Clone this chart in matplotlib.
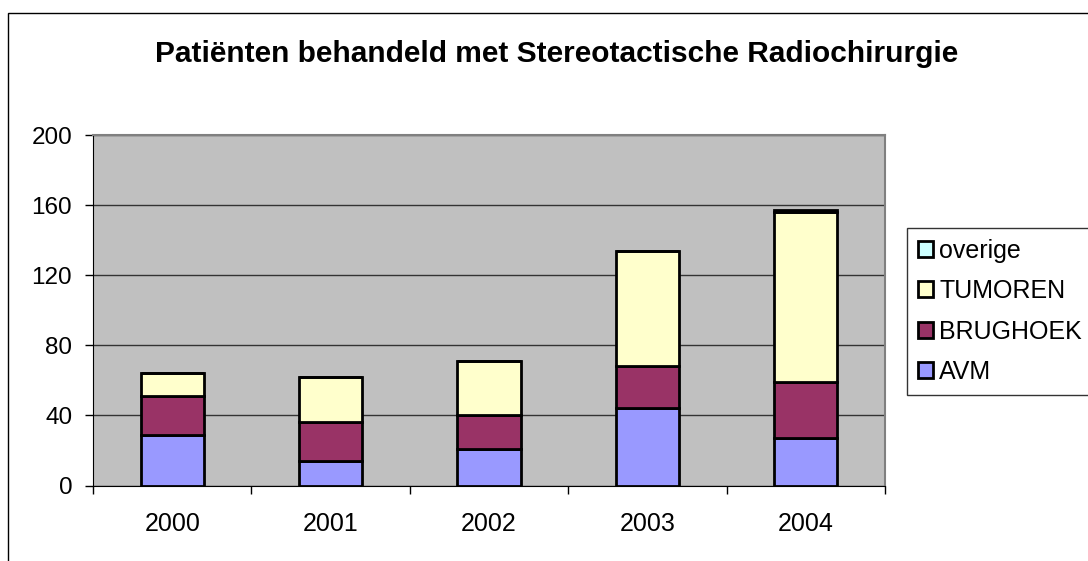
import numpy as np
import matplotlib.pyplot as plt
from matplotlib.patches import Rectangle

plt.rcParams['font.family'] = ['Liberation Sans', 'DejaVu Sans']

# data
jaren = ['2000', '2001', '2002', '2003', '2004']
avm = [29, 14, 21, 44, 27]
brughoek = [22, 22, 19, 24, 32]
tumoren = [13, 26, 31, 66, 97]
overige = [0, 0, 0, 0, 1]

series = [('AVM', avm, '#9999FF'),
          ('BRUGHOEK', brughoek, '#993366'),
          ('TUMOREN', tumoren, '#FFFFCC'),
          ('overige', overige, '#CCFFFF')]

fig = plt.figure(figsize=(10.88, 5.61), dpi=100)
# buitenrand van de grafiek
fig.patches.append(Rectangle((8 / 1088, -0.01), 1.2, 1 - 13 / 561 + 0.01,
                             transform=fig.transFigure, fill=False,
                             edgecolor='black', linewidth=1))

ax = fig.add_axes([93 / 1088, 1 - 485.5 / 561, 792 / 1088, 350.5 / 561])
ax.set_facecolor('#C0C0C0')

x = np.arange(len(jaren))
bottom = np.zeros(len(jaren))
handles = []
for naam, vals, kleur in series:
    vals = np.array(vals, dtype=float)
    b = ax.bar(x, vals, bottom=bottom, width=0.4, color=kleur,
               edgecolor='black', linewidth=2, label=naam, zorder=3)
    handles.append(b)
    bottom += vals

ax.set_xlim(-0.5, len(jaren) - 0.5)
ax.set_ylim(0, 200)
ax.set_yticks(range(0, 201, 40))
ax.set_xticks(np.arange(-0.5, len(jaren), 1), minor=False)
ax.set_xticklabels([])
ax.set_xticks(x, minor=True)
ax.set_xticklabels(jaren, minor=True)
ax.tick_params(axis='x', which='minor', length=0, labelsize=18, pad=19)
ax.tick_params(axis='x', which='major', length=6, width=1, direction='out')
ax.tick_params(axis='y', length=6, width=1, direction='out', labelsize=17.5, pad=9)

ax.yaxis.grid(True, color='#333333', linewidth=1, zorder=1)
ax.set_axisbelow(True)
for kant in ['top', 'right']:
    ax.spines[kant].set_color('#808080')
    ax.spines[kant].set_linewidth(1.5)
ax.spines['left'].set_color('black')
ax.spines['bottom'].set_color('black')

fig.text(557 / 1088, 1 - 54 / 561, 'Patiënten behandeld met Stereotactische Radiochirurgie',
         ha='center', va='center', fontsize=21.5, fontweight='bold')

leg = fig.legend(handles[::-1], [s[0] for s in series][::-1],
                 loc='upper left', mode='expand',
                 bbox_to_anchor=(907 / 1088, 1 - 228 / 561, 200 / 1088, 0),
                 fontsize=18, frameon=True, fancybox=False, edgecolor='black',
                 handlelength=0.62, handleheight=0.62, handletextpad=0.25,
                 labelspacing=0.66, borderpad=0.42, borderaxespad=0)
leg.get_frame().set_linewidth(1)

fig.savefig('out.png', dpi=100)
